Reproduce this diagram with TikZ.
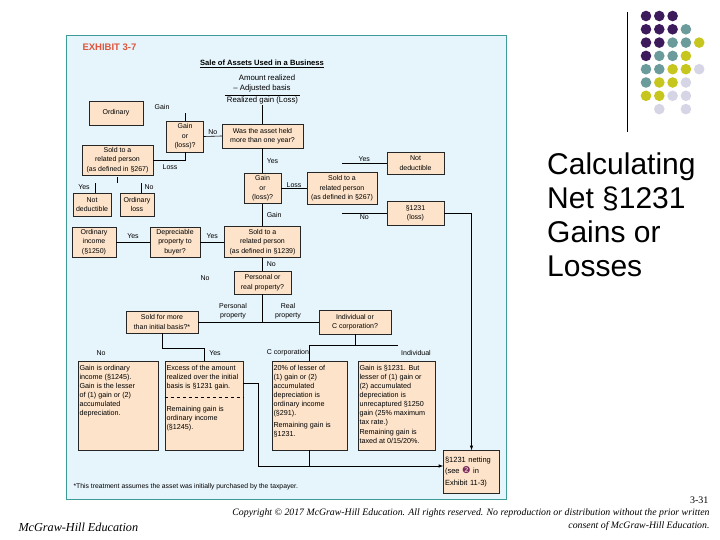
\documentclass[tikz,border=0pt]{standalone}
\usepackage{fontspec}
\setmainfont{Liberation Sans}
\newfontfamily\serifit{Liberation Serif}
\newfontfamily\symfont{DejaVu Sans}

\definecolor{panel}{HTML}{E6F4FB}
\definecolor{panelrule}{HTML}{3E9C98}
\definecolor{boxfill}{HTML}{FCE3CA}
\definecolor{exred}{HTML}{E0553B}
\definecolor{dotpurple}{HTML}{3D1A5B}
\definecolor{dotteal}{HTML}{6C9B9B}
\definecolor{dotolive}{HTML}{C6C61E}
\definecolor{dotlilac}{HTML}{D5D5E5}
\definecolor{badgepurple}{HTML}{7A2B5E}

\tikzset{
  box/.style={draw=black!85, fill=boxfill, line width=0.5pt, inner sep=1pt, align=center, font=\fontsize{7}{9.5}\selectfont},
  notebox/.style={draw=black!85, fill=boxfill, line width=0.5pt, inner sep=1.5pt, font=\fontsize{7.2}{9}\selectfont},
  tag/.style={font=\fontsize{7}{8.5}\selectfont, inner sep=1pt},
  sumline/.style={font=\fontsize{7.8}{9}\selectfont, inner sep=1pt},
  link/.style={line width=0.6pt},
}
\newcommand{\badge}[1]{{\symfont\fontsize{9.5}{9}\selectfont\color{badgepurple}#1}}

\begin{document}
\begin{tikzpicture}[x=1pt,y=-1pt]
\useasboundingbox (0,0) rectangle (720,540);

% exhibit panel
\draw[panelrule, fill=panel, line width=0.8pt] (66,35) rectangle (506,499);
\node[anchor=west, font=\bfseries\fontsize{9.5}{11}\selectfont, text=exred] (exhibit) at (79,47) {EXHIBIT 3-7};
\node[font=\bfseries\fontsize{7.6}{8}\selectfont] (head) at (262,64) {\underline{Sale of Assets Used in a Business}};
\node[sumline] (amt) at (267,78) {Amount realized};
\node[sumline] (adj) at (262,88) {– Adjusted basis};
\node[sumline] (rg) at (262.5,100) {Realized gain (Loss)};
\draw[link] ([xshift=-1pt]rg.north west) -- ([xshift=1pt]rg.north east);

% holding period
\node[box, minimum width=81, minimum height=24] (held) at (262.5,136) {Was the asset held\\more than one year?};
\draw[link] (rg.south) -- (held.north);

% short-term branch
\node[box, minimum width=37, minimum height=31] (gl1) at (185,136.5) {Gain\\or\\(loss)?};
\draw[link] (held.west) -- (gl1.east) node[tag, midway, above] (lno1) {No};
\node[box, minimum width=54, minimum height=24] (ord) at (116,113) {Ordinary};
\node[tag] (lgain1) at (162,107) {Gain};
\draw[link] (gl1.north) -- ++(0,-8);
\node[box, minimum width=71, minimum height=30] (rel1) at (117.5,160) {Sold to a\\related person\\(as defined in §267)};
\draw[link] (gl1.south) |- (rel1.east);
\node[tag] (lloss1) at (170,167) {Loss};
\node[box, minimum width=38, minimum height=23] (nd1) at (92,204.5) {Not\\deductible};
\node[box, minimum width=34, minimum height=23] (oloss) at (137,204.5) {Ordinary\\loss};
\draw[link] ([yshift=-2pt]rel1.south) -- ++(0,6);
\draw[link] ([xshift=3pt]nd1.north) -- ++(0,-10);
\draw[link] ([xshift=4pt]oloss.north) -- ++(0,-10);
\node[tag] (lyes1) at (84,187) {Yes};
\node[tag] (lno2) at (149,187) {No};

% long-term branch
\node[box, minimum width=37, minimum height=30] (gl2) at (262.5,188.5) {Gain\\or\\(loss)?};
\draw[link] (held.south) -- (gl2.north) node[tag, midway, right=3pt] (lyes4) {Yes};
\node[box, minimum width=70, minimum height=32] (rel3) at (342,188.5) {Sold to a\\related person\\(as defined in §267)};
\draw[link] (gl2.east) -- (rel3.west) node[tag, midway, above] (lloss2) {Loss};
\node[box, minimum width=57, minimum height=22] (nd2) at (415.5,163) {Not\\deductible};
\node[box, minimum width=57, minimum height=24] (s1231) at (415.5,213) {§1231\\(loss)};
\draw[link] (nd2.west) -- ++(-45,0) node[tag, midway, above] (lyes5) {Yes};
\draw[link] (s1231.west) -- ++(-45,0) node[tag, midway, below] (lno3) {No};

\node[box, minimum width=76, minimum height=31] (rel2) at (262.5,242) {Sold to a\\related person\\(as defined in §1239)};
\draw[link] (gl2.south) -- (rel2.north) node[tag, midway, right=3pt] (lgain2) {Gain};
\node[box, minimum width=50, minimum height=30] (dep) at (175,242) {Depreciable\\property to\\buyer?};
\node[box, minimum width=44, minimum height=30] (oinc) at (94,242) {Ordinary\\income\\(§1250)};
\draw[link] (rel2.west) -- (dep.east) node[tag, midway, above=2pt] (lyes2) {Yes};
\draw[link] (dep.west) -- (oinc.east) node[tag, midway, above=2pt] (lyes3) {Yes};

\node[box, minimum width=57, minimum height=23] (prop) at (262.5,282.5) {Personal or\\real property?};
\draw[link] (rel2.south) -- (prop.north) node[tag, midway, right=3pt] (lno4) {No};
\node[tag] (lno5) at (205,278) {No};
\node[box, minimum width=72, minimum height=22] (more) at (162,322) {Sold for more\\than initial basis?*};
\node[box, minimum width=72, minimum height=24] (corp) at (355,322) {Individual or\\C corporation?};
\draw[link] (more.east) -- (corp.west);
\draw[link] (prop.south) -- (prop.south |- corp.west);
\node[tag, align=center] (lpers) at (233,311) {Personal\\property};
\node[tag, align=center] (lreal) at (288,311) {Real\\property};

% outcomes
\node[notebox] (g1245) at (118,405.5) {\begin{minipage}[c][86pt][t]{77pt}\raggedright\vspace*{3pt}
Gain is ordinary\\income (§1245).\\Gain is the lesser\\of (1) gain or (2)\\accumulated\\depreciation.\end{minipage}};
\node[notebox] (excess) at (204,405.5) {\begin{minipage}[c][86pt][t]{75pt}\raggedright\vspace*{3pt}
Excess of the amount\\realized over the initial\\basis is §1231 gain.\\[14pt]Remaining gain is\\ordinary income\\(§1245).\end{minipage}};
\draw[link, dashed] ([yshift=-37pt]excess.north west) -- ([yshift=-37pt]excess.north east);
\node[notebox] (ccorp) at (309.5,405.5) {\begin{minipage}[c][86pt][t]{72pt}\raggedright\vspace*{3pt}
20\% of lesser of\\(1) gain or (2)\\accumulated\\depreciation is\\ordinary income\\(§291).\\[3pt]Remaining gain is\\§1231.\end{minipage}};
\node[notebox] (indiv) at (396.5,405.5) {\begin{minipage}[c][86pt][t]{74pt}\raggedright\vspace*{3pt}
Gain is §1231. But\\lesser of (1) gain or\\(2) accumulated\\depreciation is\\unrecaptured §1250\\gain (25\% maximum\\tax rate.)\\[1pt]Remaining gain is\\taxed at 0/15/20\%.\end{minipage}};

\draw[link] (more.south) -- ++(0,15) coordinate (forkA) -| (excess.north);
\node[tag] (lno6) at (101,353) {No};
\node[tag] (lyes6) at (215,353) {Yes};
\draw[link] (corp.south) -- ++(0,11) coordinate (forkB);
\draw[link] (ccorp.north) |- (forkB) -- ++(43,0);
\node[tag] (lccorp) at (288,353) {C corporation};
\node[tag] (lindiv) at (416,353) {Individual};

\node[notebox, align=left, text width=53, minimum height=43, font=\fontsize{7.5}{11.5}\selectfont] (net) at (471.5,472) {§1231 netting\\(see \badge{❷} in\\Exhibit 11-3)};
\draw[link, -latex] (s1231.east) -| (net.north);
\draw[link, -latex] ([yshift=22.5pt]excess.east) -- ++(15,0) |- ([yshift=6pt]net.west);
\draw[link] (ccorp.south) -- ++(0,16);

\node[anchor=west, font=\fontsize{6.8}{7}\selectfont] (fn) at (70,487) {*This treatment assumes the asset was initially purchased by the taxpayer.};

% slide side
\draw[line width=1pt] (627,12) -- (627,132);
\foreach \i/\j/\c in {0/0/dotpurple,1/0/dotpurple,2/0/dotpurple,
  0/1/dotpurple,1/1/dotpurple,2/1/dotpurple,3/1/dotteal,
  0/2/dotpurple,1/2/dotpurple,2/2/dotteal,3/2/dotteal,4/2/dotolive,
  0/3/dotpurple,1/3/dotteal,2/3/dotteal,3/3/dotolive,
  0/4/dotteal,1/4/dotteal,2/4/dotolive,3/4/dotolive,4/4/dotlilac,
  0/5/dotteal,1/5/dotolive,2/5/dotolive,3/5/dotlilac,
  0/6/dotolive,1/6/dotolive,2/6/dotlilac,3/6/dotlilac,
  1/7/dotlilac,3/7/dotlilac}
  \fill[\c] ({646+13.3*\i},{16+13.3*\j}) circle (5.3);

\node[anchor=north west, align=left, inner sep=0pt, font=\fontsize{30}{33.7}\selectfont] (calc) at (547,153) {Calculating\\Net §1231\\Gains or\\Losses};

\node[anchor=east, font=\serifit\fontsize{10}{11}\selectfont] (page) at (712,500) {3-31};
\node[anchor=east, align=right, font=\serifit\itshape\fontsize{9.8}{13}\selectfont] (copy) at (713,520) {Copyright © 2017 McGraw-Hill Education. All rights reserved. No reproduction or distribution without the prior written\\consent of McGraw-Hill Education.};
\node[anchor=west, font=\serifit\itshape\fontsize{12.2}{13}\selectfont] (brand) at (15,527) {McGraw-Hill Education};
\end{tikzpicture}
\end{document}
